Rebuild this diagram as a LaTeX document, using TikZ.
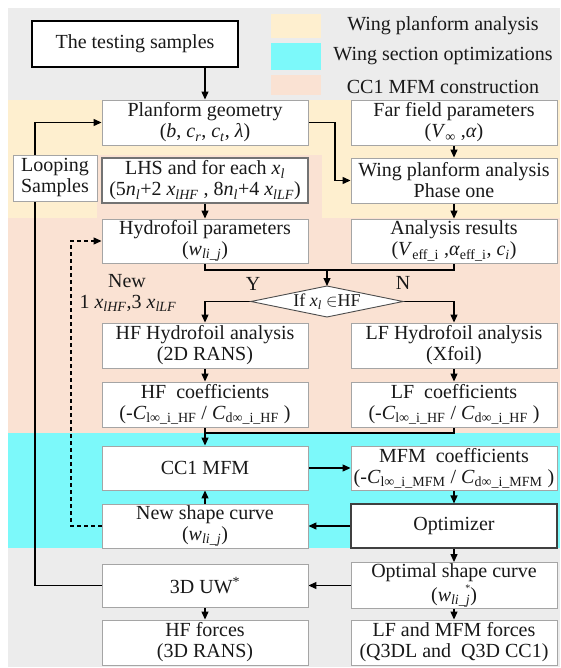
\documentclass[tikz,border=0pt]{standalone}
\usepackage{fontspec}
\usepackage{amsmath}
\setmainfont{Liberation Serif}
\usetikzlibrary{arrows.meta}

\definecolor{panelgray}{RGB}{236,236,236}
\definecolor{planyellow}{RGB}{254,239,207}
\definecolor{mfmpeach}{RGB}{250,226,211}
\definecolor{seccyan}{RGB}{124,249,250}
\definecolor{boxline}{RGB}{165,165,165}
\definecolor{inkgray}{RGB}{25,25,25}

\newcommand{\bfnt}{\fontsize{20bp}{21bp}\selectfont}
\newcommand{\sfnt}{\fontsize{18bp}{20bp}\selectfont}
\newcommand{\iv}[1]{\textit{#1}}
\newcommand{\sub}[1]{\textsubscript{#1}}

\pgfdeclarelayer{back}
\pgfdeclarelayer{lines}
\pgfsetlayers{back,lines,main}

\tikzset{
  box/.style={draw=boxline, line width=0.9bp, fill=white, minimum width=206bp,
    minimum height=45bp, inner sep=1bp, align=center, font=\bfnt, text=inkgray},
  darkbox/.style={box, draw=black!75, line width=1.1bp},
  label/.style={inner sep=0pt, font=\bfnt, text=inkgray, align=center},
  link/.style={line width=1.2bp, draw=black},
  arr/.style={link, -{Triangle[length=8bp,width=7bp]}},
  dasharr/.style={arr, dash pattern=on 4bp off 3bp},
  diam/.style={draw=black!70, line width=0.9bp, fill=white}
}

\begin{document}
\begin{tikzpicture}[x=1bp,y=-1bp]
\useasboundingbox (0,0) rectangle (561,668);

% coloured panels
\begin{pgfonlayer}{back}
  \fill[panelgray] (8,8) rectangle (560,667);
  \fill[planyellow] (8,100) rectangle (560,218);
  \fill[mfmpeach] (97,155) rectangle (322,218);
  \fill[mfmpeach] (8,218) rectangle (560,433);
  \fill[seccyan] (8,433) rectangle (560,548);
  % legend swatches
  \fill[planyellow] (271,14) rectangle (321,38);
  \fill[seccyan] (271,43) rectangle (321,70);
  \fill[mfmpeach] (271,75) rectangle (321,95);
\end{pgfonlayer}

% legend
\node[label] (lg1) at (443,26) {Wing planform analysis};
\node[label] (lg2) at (443,56) {Wing section optimizations};
\node[label] (lg3) at (443,87) {CC1 MFM construction};

% start
\node[box, draw=black, line width=1.6bp, minimum height=46bp] (test) at (135,44) {The testing samples};

% planform stage
\node[box] (plan) at (205,122.5) {Planform geometry\\(\iv{b}, \iv{c}\sub{\iv{r}}, \iv{c}\sub{\iv{t}}, \iv{λ})};
\node[box] (far) at (454,122.5) {Far field parameters\\(\iv{V}\sub{∞} ,\iv{α})};
\node[box, minimum width=84bp, minimum height=46bp] (loop) at (55,178) {Looping\\Samples};
\node[darkbox, draw=black!55] (lhs) at (205,180.5) {LHS and for each \iv{x}\sub{\iv{l}}\\(5\iv{n}\sub{\iv{l}}+2 \iv{x}\sub{\iv{lHF}} , 8\iv{n}\sub{\iv{l}}+4 \iv{x}\sub{\iv{lLF}})};
\node[box] (wpa) at (454,180.5) {Wing planform analysis\\Phase one};
\node[box, minimum height=44bp] (hyd) at (205,241) {Hydrofoil parameters\\(\iv{w}\sub{\iv{li\_j}})};
\node[box, minimum height=44bp] (ana) at (454,241) {Analysis results\\(\iv{V}\sub{eff\_i} ,\iv{α}\sub{eff\_i}, \iv{c}\sub{\iv{i}})};

% decision
\coordinate (dt) at (327,286);
\coordinate (db) at (327,317);
\coordinate (dl) at (251,301.5);
\coordinate (dr) at (403,301.5);
\coordinate (joinA) at (327,270);
\draw[diam] (dt) -- (dr) -- (db) -- (dl) -- cycle;
\node[label, font=\sfnt] (ifx) at (327,302) {If \iv{x}\sub{\iv{l}} $\in$HF};
\node[label] (yes) at (253,284) {Y};
\node[label] (no) at (403,283) {N};
\node[label] (newl) at (127,281) {New};
\node[label] (newn) at (128,303) {1 \iv{x}\sub{\iv{lHF}},3 \iv{x}\sub{\iv{lLF}}};

% hydrofoil analyses
\node[box] (hfa) at (205,345.5) {HF Hydrofoil analysis\\(2D RANS)};
\node[box] (lfa) at (454,345.5) {LF Hydrofoil analysis\\(Xfoil)};
\node[box] (hfc) at (205,404.5) {HF\ \ coefficients\\(-\iv{C}\sub{l∞\_i\_HF} / \iv{C}\sub{d∞\_i\_HF} )};
\node[box] (lfc) at (454,404.5) {LF\ \ coefficients\\(-\iv{C}\sub{l∞\_i\_HF} / \iv{C}\sub{d∞\_i\_HF} )};
\coordinate (joinB) at (205,433);

% section optimisation
\node[box, minimum height=44bp] (cc1) at (205,468) {CC1 MFM};
\node[box, minimum height=44bp] (mfm) at (454,468) {MFM\ \ coefficients\\(-\iv{C}\sub{l∞\_i\_MFM} / \iv{C}\sub{d∞\_i\_MFM} )};
\node[box, minimum height=44bp] (nsc) at (205,526) {New shape curve\\(\iv{w}\sub{\iv{li\_j}})};
\node[darkbox, minimum height=44bp] (opt) at (454,526) {Optimizer};

% final evaluation
\node[box, minimum height=43bp] (uw) at (205,585.5) {3D UW\textsuperscript{*}};
\node[box, minimum height=43bp] (osc) at (454,585.5) {Optimal shape curve\\[3bp](\iv{w}\sub{\iv{li\_j}}\llap{\raisebox{1.1ex}{\fontsize{10bp}{10bp}\selectfont *}})};
\node[box] (hff) at (205,642.5) {HF forces\\(3D RANS)};
\node[box] (lff) at (454,642.5) {LF and MFM forces\\(Q3DL and\ \ Q3D CC1)};

\coordinate (loopx) at (35,0);
\coordinate (dashx) at (71,0);
\coordinate (bendx) at (335,0);

\begin{pgfonlayer}{lines}
  \draw[arr] (test.south -| plan.north) -- (plan.north);
  \draw[arr] (uw.west) -- (uw.west -| loopx) |- (plan.west);
  \draw[dasharr] (nsc.west) -- (nsc.west -| dashx) |- (hyd.west);
  \draw[arr] (plan.east) -| (bendx |- wpa.west) -- (wpa.west);
  \draw[arr] (far.south) -- (wpa.north);
  \draw[arr] (wpa.south) -- (ana.north);
  \draw[arr] (lhs.south) -- (hyd.north);
  \draw[link] (hyd.south) -- (hyd.south |- joinA) -- (ana.south |- joinA) -- (ana.south);
  \draw[arr] (joinA) -- (dt);
  \draw[arr] (dl) -| (hfa.north);
  \draw[arr] (dr) -| (lfa.north);
  \draw[arr] (hfa.south) -- (hfc.north);
  \draw[arr] (lfa.south) -- (lfc.north);
  \draw[link] (lfc.south) -- (lfc.south |- joinB) -- (joinB);
  \draw[arr] (hfc.south) -- (cc1.north);
  \draw[arr] (cc1.east) -- (mfm.west);
  \draw[arr] (mfm.south) -- (opt.north);
  \draw[arr] (opt.west) -- (nsc.east);
  \draw[arr] (nsc.north) -- (cc1.south);
  \draw[arr] (opt.south) -- (osc.north);
  \draw[arr] (osc.west) -- (uw.east);
  \draw[arr] (uw.south) -- (hff.north);
  \draw[arr] (osc.south) -- (lff.north);
\end{pgfonlayer}
\end{tikzpicture}
\end{document}
